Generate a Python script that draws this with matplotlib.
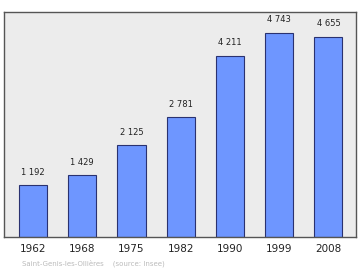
import matplotlib
matplotlib.use("Agg")
import matplotlib.pyplot as plt

years = ["1962", "1968", "1975", "1982", "1990", "1999", "2008"]
population = [1192, 1429, 2125, 2781, 4211, 4743, 4655]
labels = ["1 192", "1 429", "2 125", "2 781", "4 211", "4 743", "4 655"]

fig = plt.figure(figsize=(3.6, 2.7), dpi=100)
ax = fig.add_axes([4/360, 1 - 236.7/270, 352/360, 224.7/270])
ax.set_facecolor("#ececec")
x = list(range(len(years)))
ax.bar(x, population, width=0.57, color="#6e96ff", edgecolor="#2a3270", linewidth=0.8, zorder=2)
ax.set_xlim(-0.59, 6.56)
ax.set_ylim(0, 5225)
for xi, v, lab in zip(x, population, labels):
    ax.annotate(lab, (xi, v), xytext=(0, 6), textcoords="offset points",
                ha="center", va="bottom", fontsize=6, color="#222222")
ax.set_yticks([])
ax.set_xticks(x)
ax.set_xticklabels(years, fontsize=7.5, color="#222222")
ax.tick_params(axis="x", length=0, pad=5)
for s in ax.spines.values():
    s.set_color("#555555")
    s.set_linewidth(1.0)
fig.text(21.7/360, 1 - 263/270, "Saint-Genis-les-Ollières    (source: Insee)",
         fontsize=5, color="#bbbbbb", ha="left", va="center")
fig.savefig("out.png", dpi=100, facecolor="white")
